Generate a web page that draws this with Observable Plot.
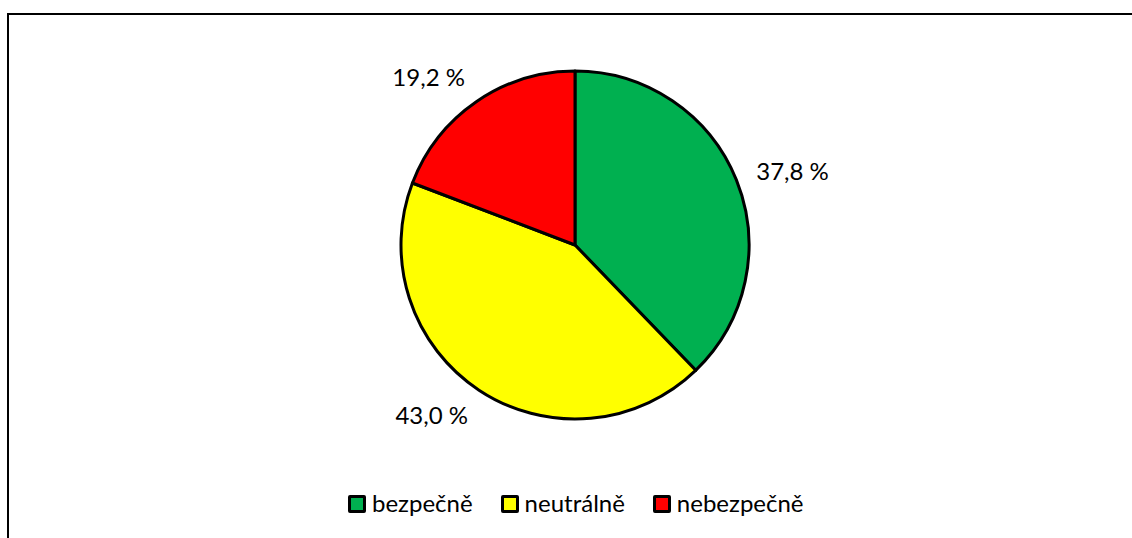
<!DOCTYPE html>
<html>
<head>
<meta charset="utf-8">
<script src="https://cdn.jsdelivr.net/npm/d3@7"></script>
<script src="https://cdn.jsdelivr.net/npm/@observablehq/plot@0.6"></script>
<style>
  html, body { margin: 0; padding: 0; background: #fff; width: 1132px; height: 538px; overflow: hidden; }
  #frame { position: absolute; left: 7px; top: 13px; width: 1300px; height: 700px; border: 2px solid #000; box-sizing: border-box; }
  #chart { position: absolute; left: 0; top: 0; }
  #legend { position: absolute; left: 348px; top: 488px; display: flex; justify-content: flex-start;
            font-family: Lato, "Open Sans", sans-serif; font-size: 24px; line-height: 30px; color: #000; }
  .item { display: flex; align-items: center; margin-right: 28px; }
  .sw { width: 12px; height: 12px; border: 3px solid #000; border-radius: 2px; margin-right: 6px; margin-top: 2px; }
</style>
</head>
<body>
<div id="frame"></div>
<div id="chart"></div>
<div id="legend"></div>
<script>
const categories = ["bezpečně", "neutrálně", "nebezpečně"];
const values = [37.8, 43.0, 19.2];
const colors = ["#00B050", "#FFFF00", "#FF0000"];

const fmt = v => v.toFixed(1).replace(".", ",") + " %";
const arcs = d3.pie().sort(null).value(d => d.value)(categories.map((c, i) => ({category: c, value: values[i], color: colors[i]})));
const labelR = 1.12;
const data = arcs.map(a => {
  const mid = (a.startAngle + a.endAngle) / 2;
  return {...a.data, start: a.startAngle, end: a.endAngle, mid,
          lx: labelR * Math.sin(mid), ly: labelR * Math.cos(mid), label: fmt(a.data.value)};
});

const pieMark = (index, scales) => {
  const cx = scales.x(0), cy = scales.y(0);
  const r = scales.x(1) - scales.x(0);
  const arc = d3.arc().innerRadius(0).outerRadius(r);
  const g = d3.create("svg:g").attr("transform", `translate(${cx},${cy})`);
  g.selectAll("path").data(data).join("path")
    .attr("d", d => arc({startAngle: d.start, endAngle: d.end}))
    .attr("fill", d => d.color)
    .attr("stroke", "#000")
    .attr("stroke-width", 3)
    .attr("stroke-linejoin", "round");
  return g.node();
};

const textOpts = {x: "lx", y: "ly", text: "label", fontSize: 24, fill: "#000"};
const chart = Plot.plot({
  width: 1132,
  height: 480,
  margin: 0,
  x: {domain: [-1, 1], range: [401, 749], axis: null},
  y: {domain: [-1, 1], range: [419, 71], axis: null},
  style: {background: "transparent", fontFamily: "Lato, 'Open Sans', sans-serif"},
  marks: [
    pieMark,
    Plot.text(data.filter(d => d.lx >= 0), {...textOpts, textAnchor: "start"}),
    Plot.text(data.filter(d => d.lx < 0 && d.ly >= 0), {...textOpts, textAnchor: "end", dy: -7}),
    Plot.text(data.filter(d => d.lx < 0 && d.ly < 0), {...textOpts, textAnchor: "end", dy: 8})
  ]
});
document.getElementById("chart").append(chart);

const legend = d3.select("#legend");
categories.forEach((c, i) => {
  const item = legend.append("div").attr("class", "item");
  item.append("div").attr("class", "sw").style("background", colors[i]);
  item.append("span").text(c);
});
</script>
</body>
</html>
